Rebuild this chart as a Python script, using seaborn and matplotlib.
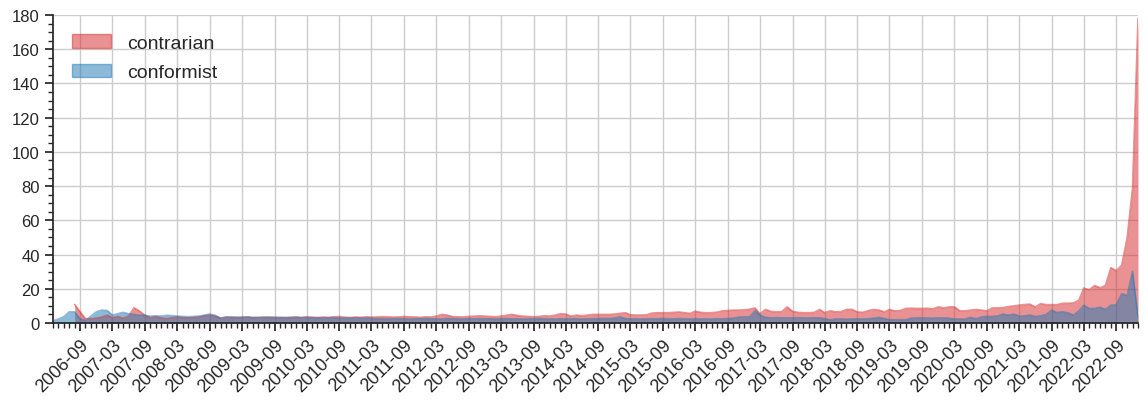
import numpy as np
import pandas as pd
import matplotlib
matplotlib.use("Agg")
import matplotlib.pyplot as plt
import matplotlib.dates as mdates
from matplotlib.patches import Patch
from matplotlib.ticker import MultipleLocator
import seaborn as sns

# monthly counts, 2006-04 .. 2023-01
start_month = "2006-04"
n_months = 202

contrarian = [
    np.nan, np.nan, np.nan, np.nan, 10.8, 6.5, 2.5, 2.5, 2.8,          # 2006
    3.5, 4.6, 3.0, 3.8, 2.8, 4.0, 8.9, 7.0, 4.5, 3.0, 3.7, 3.0,        # 2007
    2.5, 3.0, 3.5, 3.2, 3.0, 3.2, 3.5, 4.2, 4.6, 4.0, 3.0, 3.4,        # 2008
    3.2, 3.0, 3.3, 3.5, 3.1, 3.0, 3.2, 3.4, 3.3, 3.0, 3.1, 3.4,        # 2009
    3.5, 3.3, 3.6, 3.4, 3.2, 3.5, 3.3, 3.6, 3.8, 3.4, 3.2, 3.5,        # 2010
    3.3, 3.6, 3.4, 3.5, 3.7, 3.6, 3.4, 3.5, 3.8, 3.6, 3.5, 3.3,        # 2011
    3.6, 3.5, 4.0, 5.0, 4.6, 3.8, 3.6, 3.5, 3.8, 4.0, 4.2, 4.0,        # 2012
    3.8, 3.6, 4.0, 4.5, 5.0, 4.4, 4.0, 3.8, 3.6, 3.8, 4.2, 4.0,        # 2013
    4.6, 5.4, 5.2, 4.0, 4.6, 4.2, 4.6, 5.0, 5.0, 5.0, 5.0, 5.2,        # 2014
    5.6, 6.0, 4.8, 4.6, 4.6, 4.8, 5.8, 6.0, 6.0, 6.0, 6.2, 6.4,        # 2015
    6.0, 5.6, 6.9, 6.2, 6.0, 6.0, 6.3, 7.1, 7.3, 7.5, 7.5, 7.7,        # 2016
    8.0, 8.8, 5.4, 7.9, 6.8, 6.5, 6.6, 9.4, 6.8, 6.2, 6.0, 6.0,        # 2017
    6.2, 7.9, 6.0, 7.1, 6.5, 6.6, 7.9, 8.0, 6.5, 6.2, 7.2, 7.9,        # 2018
    7.5, 6.5, 7.9, 7.1, 7.3, 8.5, 8.6, 8.5, 8.5, 8.6, 8.2, 9.4,        # 2019
    8.8, 9.4, 9.4, 7.1, 7.1, 7.5, 7.9, 7.5, 7.1, 8.8, 8.8, 9.0,        # 2020
    9.6, 10.0, 10.4, 10.8, 11.0, 9.4, 11.3, 10.7, 10.7, 10.7, 11.5, 11.5,  # 2021
    11.7, 13.2, 20.4, 19.4, 21.9, 20.6, 21.9, 32.3, 30.5, 33.8, 50.0, 78.6,  # 2022
    178.0,                                                             # 2023
]

conformist = [
    1.3, 2.3, 3.7, 6.5, 6.5, 2.5, 1.5, 4.0, 6.5,                       # 2006
    7.5, 7.3, 4.6, 5.4, 6.2, 5.4, 5.0, 4.5, 4.6, 4.0, 4.2, 4.0,        # 2007
    4.5, 4.3, 4.0, 3.8, 3.7, 3.8, 4.0, 4.6, 5.2, 4.5, 2.7, 3.5,        # 2008
    3.6, 3.5, 3.4, 3.5, 3.3, 3.4, 3.5, 3.3, 3.2, 3.4, 3.2, 3.1,        # 2009
    3.3, 3.0, 3.2, 3.0, 3.1, 2.9, 3.0, 3.1, 2.9, 2.8, 3.0, 2.9,        # 2010
    2.8, 2.9, 2.7, 2.6, 2.5, 2.4, 2.5, 2.6, 2.4, 2.3, 2.5, 2.4,        # 2011
    2.6, 2.5, 2.3, 2.4, 2.7, 2.5, 2.4, 2.3, 2.5, 2.4, 2.6, 2.5,        # 2012
    2.4, 2.3, 2.5, 2.6, 2.4, 2.5, 2.3, 2.4, 2.5, 2.6, 2.5, 2.4,        # 2013
    2.3, 2.5, 2.4, 2.6, 2.5, 2.3, 2.4, 2.5, 2.6, 2.7, 2.6, 2.8,        # 2014
    3.6, 2.6, 2.4, 2.5, 2.3, 2.4, 2.5, 2.4, 2.6, 2.5, 2.4, 2.6,        # 2015
    2.5, 2.3, 2.4, 2.3, 2.4, 2.3, 2.5, 2.4, 2.6, 2.8, 3.4, 3.6,        # 2016
    3.6, 7.1, 4.5, 3.3, 3.0, 3.1, 3.0, 2.9, 3.0, 3.1, 3.0, 2.9,        # 2017
    3.0, 3.0, 2.5, 1.9, 2.3, 2.3, 2.2, 2.3, 2.4, 2.3, 2.5, 2.8,        # 2018
    3.3, 2.6, 1.9, 1.9, 2.0, 1.9, 2.8, 2.9, 3.0, 2.9, 2.8, 3.0,        # 2019
    2.9, 2.8, 2.3, 2.3, 2.2, 3.3, 2.5, 3.5, 3.9, 3.8, 4.2, 5.2,        # 2020
    4.6, 5.2, 4.0, 4.2, 4.6, 3.8, 4.2, 5.0, 7.5, 6.1, 6.5, 6.0,        # 2021
    4.6, 7.0, 10.4, 8.5, 8.5, 9.2, 8.0, 10.4, 10.7, 17.1, 16.1, 30.2,  # 2022
    4.0,                                                               # 2023
]

series_names = ["contrarian", "conformist"]
series_colors = {"contrarian": "#d62728", "conformist": "#1f77b4"}

dates = pd.date_range(start_month, periods=n_months, freq="MS")
df = pd.DataFrame({"date": dates, "contrarian": contrarian, "conformist": conformist})
df_long = df.melt(id_vars="date", var_name="series", value_name="value")

sns.set_theme(context="notebook", style="ticks", rc={"axes.grid": True, "grid.color": "#cccccc"})
plt.rcParams["font.family"] = ["Liberation Sans", "DejaVu Sans"]

fig, ax = plt.subplots(figsize=(11.48, 4.06), dpi=100)
fig.subplots_adjust(left=0.0462, right=0.9913, top=0.9606, bottom=0.202)

sns.lineplot(data=df_long, x="date", y="value", hue="series", palette=series_colors,
             alpha=0.5, linewidth=1.2, legend=False, ax=ax)
for name in series_names:
    ax.fill_between(df["date"], 0, df[name], color=series_colors[name], alpha=0.5, linewidth=0)

ax.set_xlim(dates[0], dates[-1])
ax.set_ylim(0, 180)
ax.yaxis.set_major_locator(MultipleLocator(20))
ax.yaxis.set_minor_locator(MultipleLocator(5))
ax.xaxis.set_major_locator(mdates.MonthLocator(bymonth=[3, 9]))
ax.xaxis.set_minor_locator(mdates.MonthLocator())
ax.xaxis.set_major_formatter(mdates.DateFormatter("%Y-%m"))
ax.tick_params(axis="both", which="major", labelsize=12, length=6, width=1.25, color="#262626")
ax.tick_params(axis="x", which="major", labelsize=13)
ax.tick_params(axis="both", which="minor", length=3.5, width=1, color="#262626")
plt.setp(ax.get_xticklabels(), rotation=45, ha="right", rotation_mode="anchor")
ax.set_xlabel("")
ax.set_ylabel("")
for side in ["left", "bottom"]:
    ax.spines[side].set_linewidth(1.25)
    ax.spines[side].set_color("#262626")
sns.despine(ax=ax)

handles = [Patch(facecolor=series_colors[n], edgecolor=series_colors[n], alpha=0.5, label=n)
           for n in series_names]
ax.legend(handles=handles, loc="upper left", frameon=False, fontsize=14,
          borderaxespad=0.6, labelspacing=0.6)

fig.savefig("out.png", dpi=100)
